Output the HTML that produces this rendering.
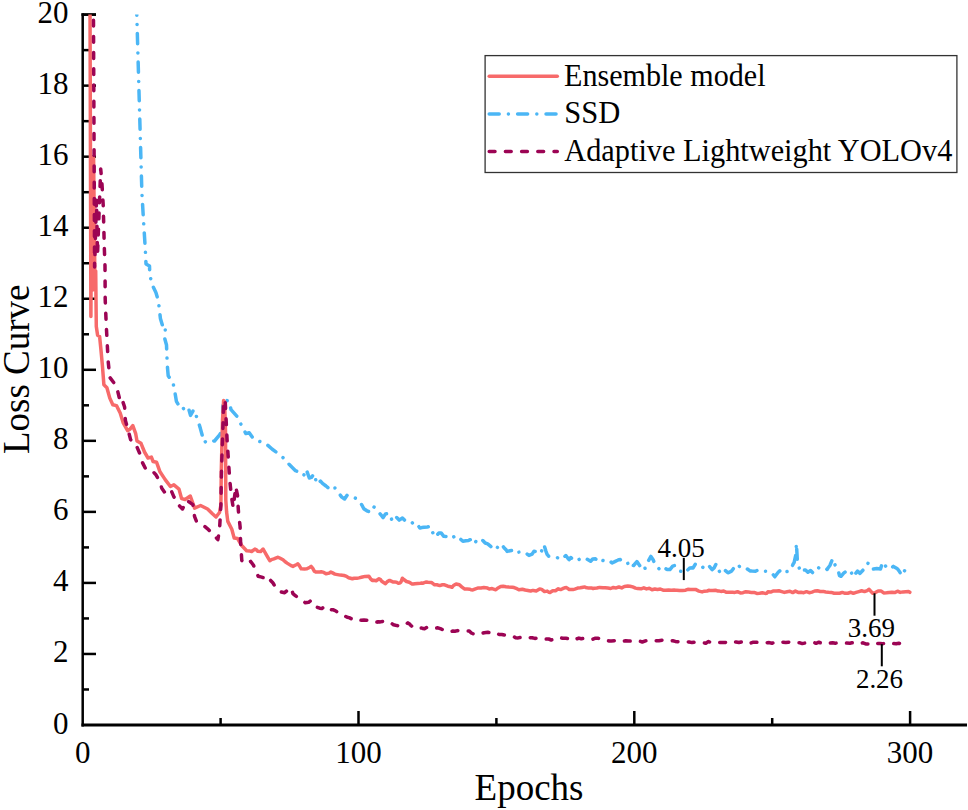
<!DOCTYPE html>
<html><head><meta charset="utf-8"><style>
html,body{margin:0;padding:0;background:#fff;}
svg{display:block;}
text{font-family:"Liberation Serif",serif;fill:#000;}
</style></head><body>
<svg width="968" height="810" viewBox="0 0 968 810">
<rect width="968" height="810" fill="#fff"/>
<defs><clipPath id="pc"><rect x="83" y="14.60" width="890" height="720"/></clipPath></defs>

<g>
<line x1="82.70" y1="689.48" x2="89.00" y2="689.48" stroke="#000" stroke-width="2.5"/>
<line x1="82.70" y1="653.96" x2="96.00" y2="653.96" stroke="#000" stroke-width="2.5"/>
<line x1="82.70" y1="618.44" x2="89.00" y2="618.44" stroke="#000" stroke-width="2.5"/>
<line x1="82.70" y1="582.92" x2="96.00" y2="582.92" stroke="#000" stroke-width="2.5"/>
<line x1="82.70" y1="547.40" x2="89.00" y2="547.40" stroke="#000" stroke-width="2.5"/>
<line x1="82.70" y1="511.88" x2="96.00" y2="511.88" stroke="#000" stroke-width="2.5"/>
<line x1="82.70" y1="476.36" x2="89.00" y2="476.36" stroke="#000" stroke-width="2.5"/>
<line x1="82.70" y1="440.84" x2="96.00" y2="440.84" stroke="#000" stroke-width="2.5"/>
<line x1="82.70" y1="405.32" x2="89.00" y2="405.32" stroke="#000" stroke-width="2.5"/>
<line x1="82.70" y1="369.80" x2="96.00" y2="369.80" stroke="#000" stroke-width="2.5"/>
<line x1="82.70" y1="334.28" x2="89.00" y2="334.28" stroke="#000" stroke-width="2.5"/>
<line x1="82.70" y1="298.76" x2="96.00" y2="298.76" stroke="#000" stroke-width="2.5"/>
<line x1="82.70" y1="263.24" x2="89.00" y2="263.24" stroke="#000" stroke-width="2.5"/>
<line x1="82.70" y1="227.72" x2="96.00" y2="227.72" stroke="#000" stroke-width="2.5"/>
<line x1="82.70" y1="192.20" x2="89.00" y2="192.20" stroke="#000" stroke-width="2.5"/>
<line x1="82.70" y1="156.68" x2="96.00" y2="156.68" stroke="#000" stroke-width="2.5"/>
<line x1="82.70" y1="121.16" x2="89.00" y2="121.16" stroke="#000" stroke-width="2.5"/>
<line x1="82.70" y1="85.64" x2="96.00" y2="85.64" stroke="#000" stroke-width="2.5"/>
<line x1="82.70" y1="50.12" x2="89.00" y2="50.12" stroke="#000" stroke-width="2.5"/>
<line x1="82.70" y1="14.60" x2="96.00" y2="14.60" stroke="#000" stroke-width="2.5"/>
<line x1="220.60" y1="718.00" x2="220.60" y2="725.00" stroke="#000" stroke-width="2.5"/>
<line x1="358.50" y1="711.00" x2="358.50" y2="725.00" stroke="#000" stroke-width="2.5"/>
<line x1="496.40" y1="718.00" x2="496.40" y2="725.00" stroke="#000" stroke-width="2.5"/>
<line x1="634.30" y1="711.00" x2="634.30" y2="725.00" stroke="#000" stroke-width="2.5"/>
<line x1="772.20" y1="718.00" x2="772.20" y2="725.00" stroke="#000" stroke-width="2.5"/>
<line x1="910.10" y1="711.00" x2="910.10" y2="725.00" stroke="#000" stroke-width="2.5"/>
<line x1="82.70" y1="13.35" x2="82.70" y2="726.50" stroke="#000" stroke-width="2.5"/>
<line x1="81.45" y1="14.60" x2="96.00" y2="14.60" stroke="#000" stroke-width="2.5"/>
<line x1="81.45" y1="725.00" x2="967.00" y2="725.00" stroke="#000" stroke-width="3"/>
</g>
<g clip-path="url(#pc)" fill="none" stroke-linejoin="round">
<polyline points="136.6,0.0 136.8,15.0 141.9,193.0 143.6,222.0 145.3,249.3 146.0,264.0 149.5,266.0 149.8,274.0 151.7,283.8 155.9,292.5 158.4,301.0 160.4,318.4 163.3,328.3 165.5,327.0 164.6,338.0 166.5,345.0 167.0,358.0 167.5,367.8 168.2,375.7 173.1,383.1 174.8,391.7 176.4,401.3 181.4,409.6 188.0,406.3 190.5,415.4 193.8,409.6 197.9,420.3 200.4,428.6 202.9,437.7 204.5,442.6 207.0,440.2 214.5,441.0 219.4,435.2 222.7,429.4 222.7,404.6 224.4,399.7 229.3,401.3 231.0,409.6 238.4,417.9 241.7,426.1 245.9,433.6 249.2,432.7 253.3,438.5 258.3,441.0 265.7,443.5 272.3,449.3 278.1,453.4 283.9,458.3 288.8,464.1 295.5,470.7 300.4,472.4 303.7,475.5 306.2,469.3 309.3,478.0 311.4,477.4 314.3,473.6 316.7,484.2 320.5,481.1 322.5,483.4 326.0,486.0 328.0,487.6 331.6,490.4 333.5,488.1 335.3,487.9 339.0,493.5 341.8,497.1 344.6,499.0 347.1,495.3 350.0,495.1 353.3,497.2 355.6,498.3 358.3,499.7 362.0,505.2 363.8,508.7 366.9,510.8 370.0,512.1 373.1,506.5 374.9,507.6 378.1,511.4 381.2,515.2 383.1,517.6 385.5,513.9 389.3,513.3 392.4,521.4 394.2,520.2 396.1,517.0 399.2,520.1 402.4,518.0 405.2,520.8 407.2,520.7 410.7,520.9 413.3,524.0 416.6,523.1 419.9,528.1 421.8,527.6 424.0,527.3 427.3,526.9 430.7,526.4 432.8,532.7 434.8,537.2 438.9,533.1 441.1,532.9 443.8,536.3 446.4,536.4 449.3,537.2 453.0,535.5 455.5,539.7 457.6,540.1 460.4,539.0 462.9,541.3 465.9,540.7 468.6,540.4 470.3,539.7 471.4,539.4 474.5,543.8 476.9,539.7 479.7,538.5 481.1,538.8 482.4,540.1 485.2,543.0 487.7,543.8 490.7,546.3 493.5,549.5 496.0,549.6 499.0,544.9 500.9,543.8 504.5,548.3 505.9,549.6 507.2,551.4 510.0,550.8 512.8,550.3 514.1,552.9 515.5,552.5 519.1,552.1 521.0,553.4 523.8,552.9 525.7,552.9 529.0,555.4 532.1,554.1 534.0,551.2 537.6,551.7 540.6,553.7 543.9,544.6 545.9,551.1 547.2,554.5 548.6,556.2 551.4,556.3 554.6,557.0 556.9,557.2 559.7,559.6 562.1,558.7 565.8,555.5 567.9,558.3 569.1,559.7 570.7,557.5 573.4,559.5 574.9,558.8 576.2,557.7 579.0,559.5 581.5,558.0 584.5,559.4 586.4,558.8 590.6,561.3 592.7,559.0 595.5,558.8 598.3,561.9 601.0,559.9 603.0,560.5 606.5,560.1 607.9,559.7 609.3,560.5 612.1,563.0 614.8,561.7 617.6,560.3 618.7,559.7 620.3,559.6 623.1,562.8 626.1,563.8 628.6,563.2 630.2,561.3 631.4,564.9 633.6,565.5 636.9,561.6 639.6,565.6 641.0,564.6 642.4,569.1 646.0,567.9 647.9,561.7 650.9,556.4 653.4,560.3 655.0,564.6 656.2,565.2 658.9,568.6 660.8,571.2 664.5,568.9 665.8,568.8 667.2,569.5 669.9,569.6 672.7,566.1 674.9,565.5 678.2,568.1 679.8,571.2 681.0,571.4 683.8,570.2 685.6,572.1 689.8,567.9 692.0,567.8 693.1,567.9 695.5,563.8 697.6,565.6 698.8,565.5 700.3,565.6 703.8,567.9 705.8,566.9 707.9,564.6 712.1,569.6 714.1,567.9 716.2,563.8 720.2,573.4 722.4,570.5 724.8,570.0 727.9,572.8 731.6,571.1 733.4,568.6 736.1,564.3 738.9,565.9 741.7,568.8 744.1,568.9 747.2,568.9 750.0,570.9 752.0,571.1 755.5,571.2 758.9,569.5 761.0,570.4 764.5,571.1 766.5,571.3 769.3,571.8 771.4,572.3 774.8,576.8 778.2,572.3 780.3,570.4 783.9,573.4 785.8,571.8 789.5,571.1 791.3,568.4 793.0,564.3 794.1,562.6 795.8,555.0 796.4,543.2 797.5,563.2 799.6,569.0 800.9,572.3 802.4,570.3 805.5,570.0 807.9,572.3 810.6,570.6 813.4,573.4 816.1,571.7 818.9,567.6 821.4,568.2 824.4,567.3 827.2,569.5 828.2,567.7 829.9,565.5 832.7,558.6 836.1,567.7 838.2,570.4 839.5,575.7 841.0,576.3 843.7,573.1 846.4,571.1 849.2,569.6 852.0,573.7 853.2,571.1 854.8,574.5 857.5,571.1 860.0,573.4 863.0,570.1 865.7,568.9 868.0,563.2 871.3,569.2 873.6,568.9 876.8,568.5 880.5,568.9 882.7,562.0 885.1,565.3 887.3,568.9 890.6,567.8 891.8,567.7 893.4,566.4 896.1,568.0 897.5,568.9 898.9,570.7 902.0,575.7 904.4,571.1 905.5,568.9 907.2,569.3 910.0,571.1" stroke="#4BB6F5" stroke-width="3.5" stroke-dasharray="10.3 9.1 0.01 9.1" stroke-dashoffset="-5" stroke-linecap="round"/>
<polyline points="90.0,0.0 90.9,316.5 91.6,158.0 92.8,290.0 93.6,157.0 94.8,272.0 95.7,271.0 96.3,326.5 97.6,335.2 99.6,336.4 100.9,349.3 102.4,365.6 103.9,384.8 106.9,387.8 109.8,398.1 112.8,404.8 116.5,405.6 120.2,413.0 123.1,422.6 127.6,430.7 129.8,429.3 132.8,425.6 135.7,433.7 137.0,441.0 141.0,443.3 144.5,452.0 148.0,458.0 151.4,457.1 153.1,461.5 156.6,462.3 160.0,471.8 165.2,479.6 170.4,486.5 173.9,484.8 179.0,489.1 181.6,498.6 185.1,499.5 190.3,496.0 194.6,508.1 200.6,505.5 207.6,509.0 211.9,513.3 216.0,517.0 219.5,512.5 220.9,505.0 221.3,470.0 222.5,420.0 223.6,400.5 224.6,402.0 225.5,430.0 225.8,500.0 226.6,512.0 227.8,521.4 231.8,529.3 234.2,538.1 237.6,538.5 241.7,545.5 246.6,550.7 249.4,550.9 251.6,551.5 254.9,549.1 256.5,549.8 257.6,551.2 260.7,551.5 263.1,549.0 266.4,554.8 268.7,558.8 269.8,560.6 271.4,559.7 273.9,558.9 276.9,557.6 278.0,557.3 279.7,558.0 283.0,559.8 285.2,561.8 287.1,563.1 290.7,565.4 292.9,566.4 296.2,564.8 297.9,563.9 299.0,565.1 301.2,568.8 304.5,568.9 306.9,568.8 310.0,567.2 311.1,566.4 312.8,568.4 314.4,571.3 315.6,571.9 319.3,572.1 321.1,571.7 323.8,572.4 326.0,573.8 329.3,573.1 330.9,572.1 332.1,572.6 334.9,574.1 337.5,574.6 340.4,575.1 344.1,575.5 345.9,576.1 348.6,577.7 352.4,578.8 354.2,578.3 356.9,578.3 359.0,577.9 362.4,577.0 365.2,576.4 368.9,576.3 370.7,579.0 372.2,580.4 373.5,580.2 376.2,580.7 379.0,578.8 380.5,579.6 381.7,581.2 385.5,583.7 387.3,581.6 389.6,580.4 392.8,581.9 395.5,582.1 396.6,582.3 398.3,583.2 399.9,583.1 401.0,582.0 402.4,578.2 403.8,579.5 406.5,581.5 409.3,582.2 412.1,583.9 413.1,584.0 414.8,583.7 417.6,583.4 420.4,583.2 421.4,583.1 423.1,583.2 425.9,582.0 428.0,582.3 431.4,582.4 434.6,584.8 436.9,584.8 439.7,585.6 442.4,584.8 444.5,584.8 447.9,586.2 450.7,586.8 452.0,587.3 453.5,585.5 456.1,584.0 459.4,584.8 461.7,586.9 464.4,588.9 467.2,589.1 470.0,589.3 471.0,589.8 472.8,589.9 475.5,588.8 478.3,587.9 479.3,588.1 481.0,588.0 483.8,587.6 487.5,588.1 489.3,589.0 492.1,588.6 495.8,589.8 497.6,588.2 500.7,586.4 503.1,586.2 505.9,586.7 508.6,587.0 512.3,587.3 514.1,587.6 516.9,588.7 518.9,589.8 522.4,589.2 525.2,590.0 527.9,590.5 530.7,591.0 532.1,590.6 533.4,590.6 536.2,590.9 539.6,588.9 541.7,589.4 544.5,591.6 547.2,591.1 548.7,592.2 550.0,592.4 552.7,590.7 555.5,590.7 558.3,588.8 560.0,589.4 561.0,589.5 563.8,588.1 565.0,587.8 566.5,587.6 569.3,589.5 572.0,589.6 573.2,589.4 574.8,589.1 577.6,588.1 580.3,587.8 583.1,587.2 584.8,586.9 585.8,587.5 588.6,588.1 591.4,587.9 593.1,588.6 594.1,588.2 596.9,588.0 599.6,587.4 603.0,587.8 605.1,587.8 607.9,588.1 610.7,588.5 613.4,587.4 614.5,587.8 616.2,587.9 618.9,587.0 621.7,587.9 624.4,586.5 627.8,586.1 630.0,586.2 632.7,586.9 635.5,588.1 637.7,588.6 641.0,588.8 643.8,587.8 646.5,588.9 647.6,588.6 649.3,588.3 652.0,589.8 654.8,589.0 657.5,589.4 660.3,589.0 663.1,590.2 665.8,590.2 668.6,590.0 671.3,590.2 674.1,590.0 675.7,590.2 676.8,590.3 679.6,590.6 682.4,590.5 685.6,590.2 687.9,589.3 690.6,589.4 693.4,589.5 695.5,589.4 698.9,591.1 702.1,591.9 704.4,591.2 707.2,591.1 708.8,590.2 709.9,590.6 712.7,590.6 715.5,590.3 718.2,591.1 719.5,591.1 721.0,591.4 723.7,591.0 726.5,592.3 729.3,592.2 732.7,592.3 734.8,592.4 737.5,591.7 740.3,592.9 743.0,592.7 745.8,591.7 748.6,591.9 749.8,592.3 751.3,592.4 754.1,592.4 756.8,593.4 759.6,593.2 762.3,592.8 765.1,593.4 766.8,593.2 767.9,591.8 770.6,592.1 773.6,590.9 776.1,590.9 778.9,590.8 781.7,591.6 784.4,592.4 787.2,591.7 789.9,591.2 792.7,592.6 795.4,591.1 798.2,592.4 800.9,592.3 803.7,592.7 806.5,591.7 809.2,592.7 812.0,592.1 814.7,591.0 817.5,590.8 820.3,591.5 823.6,591.6 825.8,591.9 828.5,592.2 831.3,592.4 834.1,593.2 837.3,593.2 839.6,593.2 842.3,592.4 845.1,593.3 847.8,593.2 850.9,592.3 853.4,593.3 856.1,592.4 858.9,591.6 861.6,590.8 864.5,591.6 867.2,590.6 869.1,589.3 872.5,593.2 875.4,592.6 878.2,590.9 880.9,590.9 883.7,592.9 886.5,592.8 889.2,592.5 891.8,592.3 894.7,592.6 897.5,591.2 900.2,592.4 903.0,591.9 905.8,591.7 908.5,591.5 909.8,592.3" stroke="#F76A6A" stroke-width="3.5" stroke-linecap="round"/>
<polyline points="93.4,0.0 94.6,267.0 96.5,200.0 97.5,255.0 100.7,169.0 101.8,181.0 103.2,205.0 104.4,250.0 105.0,266.0 105.2,299.4 106.2,324.0 107.5,348.8 108.3,362.6 109.8,377.4 116.5,386.3 119.4,398.1 120.9,395.9 124.6,407.0 125.4,420.4 128.3,430.7 130.6,439.6 135.7,444.1 140.2,454.5 141.9,461.5 145.4,468.4 151.4,470.1 155.7,474.4 159.2,480.5 161.8,488.2 166.1,494.3 171.3,490.8 173.9,496.9 178.2,504.6 182.5,509.0 186.8,500.3 192.9,504.6 194.6,516.7 196.3,521.0 202.4,524.5 207.6,528.8 213.6,534.9 217.9,539.6 219.6,528.6 220.9,505.0 221.5,470.0 223.8,399.7 225.2,401.0 227.1,440.0 229.7,479.8 231.5,497.1 233.2,507.5 235.8,486.8 237.5,495.4 238.4,511.0 240.1,526.6 240.6,542.2 241.8,560.5 246.6,563.9 250.7,561.4 253.5,565.3 255.7,570.5 258.2,576.3 261.7,577.1 264.0,577.9 266.4,582.1 270.6,580.4 272.8,582.7 273.9,584.5 275.5,587.6 278.3,589.0 281.3,592.0 284.6,592.8 286.6,591.0 289.3,588.8 291.2,587.9 292.9,593.6 294.8,595.3 297.6,597.2 300.3,599.4 303.1,601.2 305.3,602.7 308.6,602.3 310.2,601.1 311.4,603.7 312.7,606.0 314.1,606.2 316.9,607.1 319.7,608.2 321.8,608.5 325.1,606.0 328.4,608.5 330.7,609.7 333.4,609.8 335.9,611.0 339.0,613.5 340.8,614.3 344.5,615.8 347.2,617.2 349.1,617.6 352.7,619.4 355.7,620.1 358.3,619.3 361.0,620.2 364.0,620.1 366.5,620.2 369.3,620.3 370.6,620.9 372.1,621.1 374.8,621.3 377.6,622.2 378.8,621.7 380.3,621.9 383.1,621.3 385.5,620.9 388.6,622.3 391.4,623.3 393.5,624.7 396.9,625.6 399.6,625.8 400.7,626.1 402.4,625.2 405.1,624.9 407.9,622.8 409.0,623.6 410.7,625.3 414.0,627.8 416.2,627.3 418.9,628.3 421.7,628.0 423.1,628.6 424.5,628.8 427.2,627.2 429.7,627.8 432.7,628.1 435.5,628.3 437.9,627.8 441.0,628.9 443.7,630.2 446.5,630.2 449.3,631.5 452.8,631.1 454.8,631.3 457.6,630.6 460.2,631.1 463.1,631.1 465.8,630.9 469.3,631.1 471.3,633.0 474.1,634.2 475.1,634.4 476.9,634.4 479.6,634.1 482.4,633.2 484.2,632.7 487.9,632.3 490.8,632.7 493.4,633.8 496.2,633.1 499.1,634.4 501.7,634.5 504.4,635.0 507.4,635.2 510.0,635.4 512.7,636.0 515.6,637.7 518.2,637.9 521.0,637.4 522.2,636.9 523.7,637.1 526.5,637.1 529.3,637.6 532.1,637.7 534.8,638.4 537.5,638.0 538.8,638.5 540.3,638.6 543.0,638.7 545.8,639.1 548.7,639.0 551.3,640.0 554.1,639.4 556.8,639.3 559.6,637.6 562.4,638.2 565.8,638.2 567.9,638.5 570.6,637.4 573.4,639.0 576.1,639.1 578.9,638.1 581.3,638.8 584.4,638.3 587.2,638.6 589.9,638.8 592.7,639.3 595.5,638.2 597.9,638.2 601.0,638.9 603.7,640.2 606.5,640.3 609.2,641.1 611.3,640.9 614.8,640.8 617.5,640.5 620.3,641.6 623.0,641.2 625.8,640.8 628.8,640.9 631.3,641.1 634.1,640.6 636.8,640.5 639.6,641.1 642.3,642.0 645.4,640.9 647.9,640.6 650.6,640.2 653.4,640.0 656.1,640.7 658.9,640.8 661.9,640.3 664.4,640.7 667.2,640.9 669.9,641.1 672.7,640.7 675.4,641.4 678.4,641.9 680.9,641.6 683.7,641.8 686.5,641.7 689.2,642.0 692.0,642.6 694.7,642.2 697.0,642.4 700.3,642.8 703.0,642.7 705.8,643.2 708.5,641.5 711.3,642.8 713.6,642.4 716.8,642.4 719.6,642.6 722.3,642.6 725.1,642.5 727.8,642.0 729.0,641.9 730.6,642.7 733.4,641.9 736.1,642.0 738.9,642.5 741.6,641.9 744.4,643.2 747.1,642.7 749.9,643.3 752.7,642.3 755.4,642.2 758.2,642.5 760.0,642.5 763.7,642.3 766.4,642.7 769.2,642.6 772.0,643.3 774.7,642.3 777.5,643.1 780.2,642.4 783.0,642.2 785.8,642.4 788.5,642.2 791.3,642.8 794.0,643.2 796.8,642.8 800.0,642.8 802.3,643.6 805.1,643.0 807.8,643.0 810.6,642.8 813.3,642.2 816.1,643.3 818.8,642.2 821.6,643.3 824.4,643.0 827.1,643.5 829.9,643.0 832.6,642.7 835.4,643.2 838.2,642.9 840.9,643.0 843.7,643.2 846.4,643.1 850.0,643.2 851.9,642.8 854.7,643.2 857.5,642.3 860.2,643.2 863.0,642.8 865.7,643.9 868.5,644.0 871.3,642.5 874.0,643.5 876.8,643.4 880.0,643.5 882.3,643.8 885.0,643.4 887.8,642.8 890.6,643.5 893.3,643.6 896.1,643.7 898.8,643.2 901.6,644.0 905.0,643.8" stroke="#9C0454" stroke-width="3.5" stroke-dasharray="5.8 10.4" stroke-dashoffset="-4" stroke-linecap="round"/>
</g>
<text x="68.5" y="733.50" text-anchor="end" font-size="31">0</text>
<text x="68.5" y="662.46" text-anchor="end" font-size="31">2</text>
<text x="68.5" y="591.42" text-anchor="end" font-size="31">4</text>
<text x="68.5" y="520.38" text-anchor="end" font-size="31">6</text>
<text x="68.5" y="449.34" text-anchor="end" font-size="31">8</text>
<text x="68.5" y="378.30" text-anchor="end" font-size="31">10</text>
<text x="68.5" y="307.26" text-anchor="end" font-size="31">12</text>
<text x="68.5" y="236.22" text-anchor="end" font-size="31">14</text>
<text x="68.5" y="165.18" text-anchor="end" font-size="31">16</text>
<text x="68.5" y="94.14" text-anchor="end" font-size="31">18</text>
<text x="68.5" y="23.10" text-anchor="end" font-size="31">20</text>
<text x="82.70" y="762.7" text-anchor="middle" font-size="31">0</text>
<text x="358.50" y="762.7" text-anchor="middle" font-size="31">100</text>
<text x="634.30" y="762.7" text-anchor="middle" font-size="31">200</text>
<text x="910.10" y="762.7" text-anchor="middle" font-size="31">300</text>
<text x="529" y="800.3" text-anchor="middle" font-size="37">Epochs</text>
<text transform="translate(29.3,369.3) rotate(-90)" text-anchor="middle" font-size="37">Loss Curve</text>
<!-- annotations -->
<line x1="683.8" y1="557.8" x2="683.8" y2="580.1" stroke="#000" stroke-width="2"/>
<text x="681.1" y="556.6" text-anchor="middle" font-size="27.9" textLength="47.2" lengthAdjust="spacingAndGlyphs">4.05</text>
<line x1="874.5" y1="593.3" x2="874.5" y2="615.7" stroke="#000" stroke-width="2"/>
<text x="871.3" y="637.1" text-anchor="middle" font-size="27.9" textLength="47.2" lengthAdjust="spacingAndGlyphs">3.69</text>
<line x1="881.8" y1="644.1" x2="881.8" y2="666.3" stroke="#000" stroke-width="2"/>
<text x="879.5" y="688.4" text-anchor="middle" font-size="27.9" textLength="47.2" lengthAdjust="spacingAndGlyphs">2.26</text>
<!-- legend -->
<rect x="485.1" y="55.6" width="471.8" height="116.9" fill="#fff" stroke="#333" stroke-width="1.3"/>
<line x1="489.2" y1="76.3" x2="557.3" y2="76.3" stroke="#F76A6A" stroke-width="3.5" stroke-linecap="round"/>
<line x1="489.2" y1="114" x2="557.3" y2="114" stroke="#4BB6F5" stroke-width="3.5" stroke-dasharray="10 9.2 0.01 9.2" stroke-linecap="round"/>
<line x1="489.2" y1="151.5" x2="557.3" y2="151.5" stroke="#9C0454" stroke-width="3.5" stroke-dasharray="5.8 10.4" stroke-linecap="round"/>
<text x="564.0" y="85.9" font-size="32" textLength="201.5" lengthAdjust="spacingAndGlyphs">Ensemble model</text>
<text x="564.3" y="123.3" font-size="32" textLength="56" lengthAdjust="spacingAndGlyphs">SSD</text>
<text x="564.3" y="160.9" font-size="32" textLength="388" lengthAdjust="spacingAndGlyphs">Adaptive Lightweight YOLOv4</text>
</svg>
</body></html>
